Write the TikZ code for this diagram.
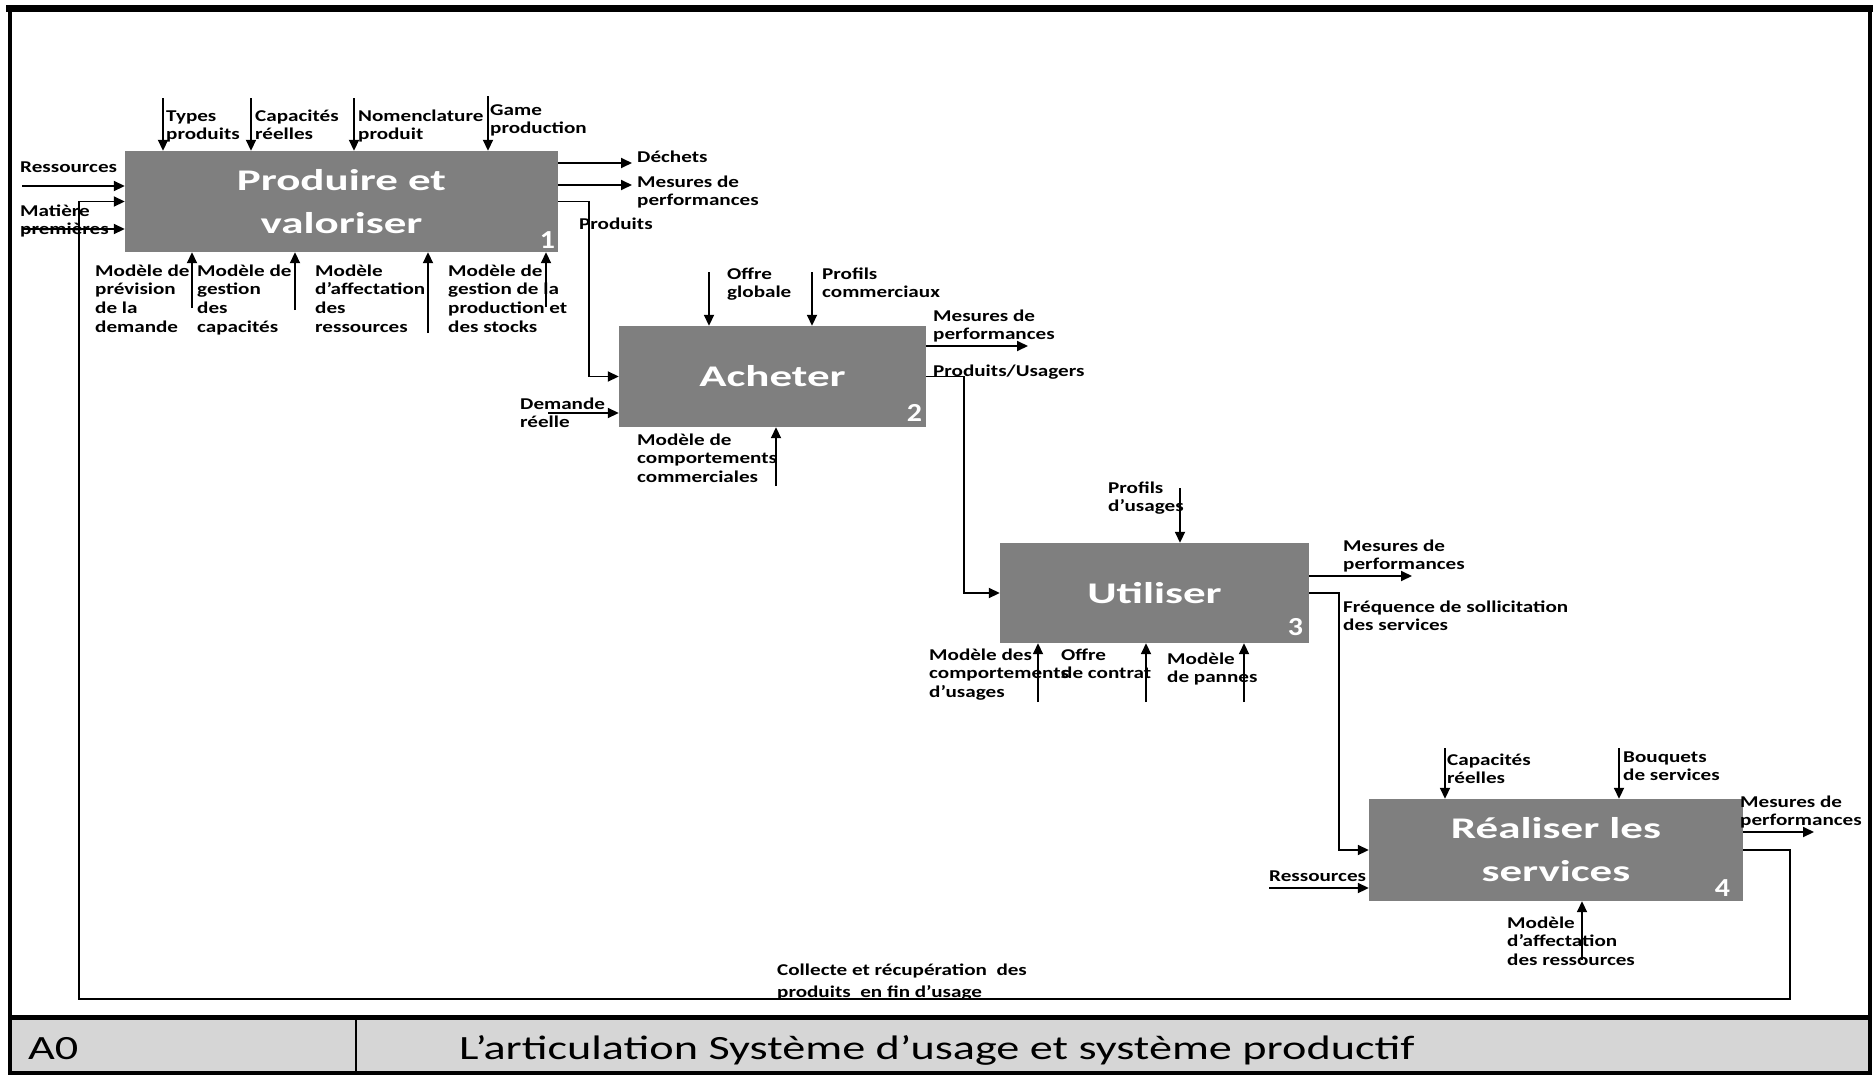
\documentclass[tikz,border=0pt]{standalone}
\usepackage{fontspec}
\setmainfont{Carlito}
\newfontfamily\lblfont{Carlito}[FakeStretch=1.28]
\newfontfamily\boxfont{Carlito}[FakeStretch=1.5]
\newfontfamily\numfont{Carlito}[FakeStretch=1.15]
\newfontfamily\titlefont{Carlito}[FakeStretch=1.36]
\usetikzlibrary{arrows.meta}
\definecolor{boxgray}{HTML}{7F7F7F}
\definecolor{bargray}{HTML}{D6D6D6}
\begin{document}
\begin{tikzpicture}[x=1pt,y=-1pt,
  lbl/.style={font=\lblfont\bfseries\fontsize{16.5}{18.8}\selectfont, align=left, anchor=base west, inner sep=0pt},
  proc/.style={fill=boxgray, draw=none, inner sep=0pt, align=center, text=white,
     font=\boxfont\bfseries\fontsize{30}{43}\selectfont},
  num/.style={font=\numfont\bfseries\fontsize{26}{26}\selectfont, text=white, inner sep=0pt, anchor=base east},
  arr/.style={draw, line width=1.8pt, -{Triangle[length=11pt,width=10pt]}}
]
\useasboundingbox (0,0) rectangle (1874,1076);

% frame and title bar
\fill[bargray] (11.5,1019.5) rectangle (1868,1071.5);
\draw[line width=4pt] (9.5,9) rectangle (1870,1073);
\draw[line width=7pt] (6,8) -- (1873,8);
\draw[line width=5pt] (9.5,1017.5) -- (1870,1017.5);
\draw[line width=2pt] (355.5,1017.5) -- (355.5,1073);
\node[font=\titlefont\fontsize{34}{34}\selectfont, anchor=base west, inner sep=0pt] (a0) at (28,1059) {A0};
\node[font=\titlefont\fontsize{34}{34}\selectfont, anchor=base west, inner sep=0pt] (title) at (459,1059) {L’articulation Système d’usage et système productif};

% boxes
\node[proc, minimum width=433pt, minimum height=101pt] (b1) at (341.5,201.5) {Produire et\\valoriser};
\node[proc, minimum width=307pt, minimum height=101pt] (b2) at (772.5,376.5) {Acheter};
\node[proc, minimum width=309pt, minimum height=100pt] (b3) at (1154.5,593) {Utiliser};
\node[proc, minimum width=374pt, minimum height=102pt] (b4) at (1556,850) {Réaliser les\\services};
\node[num] (n1) at ([xshift=-3pt,yshift=4pt]b1.south east) {1};
\node[num] (n2) at ([xshift=-4pt,yshift=6pt]b2.south east) {2};
\node[num] (n3) at ([xshift=-6pt,yshift=8pt]b3.south east) {3};
\node[num] (n4) at ([xshift=-13pt,yshift=5pt]b4.south east) {4};

% ---- box 1 ----
\coordinate (c11) at (163,98);
\coordinate (c12) at (251,98);
\coordinate (c13) at (354,98);
\coordinate (c14) at (488,96);
\foreach \c in {c11,c12,c13,c14} \draw[arr] (\c) -- (\c |- b1.north);
\coordinate (i11) at (22,186);
\coordinate (i12) at (22,229);
\draw[arr] (i11) -- (i11 -| b1.west);
\draw[arr] (i12) -- (i12 -| b1.west);
\coordinate (o11) at (632,163);
\coordinate (o12) at (632,185);
\draw[arr] (o11 -| b1.east) -- (o11);
\draw[arr] (o12 -| b1.east) -- (o12);
\coordinate (m11) at (192,308);
\coordinate (m12) at (295,310);
\coordinate (m13) at (428,333);
\coordinate (m14) at (546,307);
\foreach \m in {m11,m12,m13,m14} \draw[arr] (\m) -- (\m |- b1.south);

\node[lbl] (l-types) at (166,139.8) {Types\\produits};
\node[lbl] (l-cap1) at (255,139.8) {Capacités\\réelles};
\node[lbl] (l-nom) at (358,139.8) {Nomenclature\\produit};
\node[lbl] (l-game) at (490,133.8) {Game\\production};
\node[lbl] (l-res1) at (20,172) {Ressources};
\node[lbl] (l-mat) at (20,234.8) {Matière\\premières};
\node[lbl] (l-dech) at (637,162) {Déchets};
\node[lbl] (l-mes1) at (637,205.8) {Mesures de\\performances};
\node[lbl] (l-prod) at (579,229) {Produits};
\node[lbl] (l-m11) at (95,332.4) {Modèle de\\prévision\\de la\\demande};
\node[lbl] (l-m12) at (197,332.4) {Modèle de\\gestion\\des\\capacités};
\node[lbl] (l-m13) at (315,332.4) {Modèle\\d’affectation\\des\\ressources};
\node[lbl] (l-m14) at (448,332.4) {Modèle de\\gestion de la\\production et\\des stocks};

% ---- box 2 ----
\draw[arr] (b1.east) -- ++(31,0) |- (b2.west);
\coordinate (c21) at (709,272);
\coordinate (c22) at (812,272);
\foreach \c in {c21,c22} \draw[arr] (\c) -- (\c |- b2.north);
\coordinate (i21) at (548,413);
\draw[arr] (i21) -- (i21 -| b2.west);
\coordinate (o21) at (1028,346);
\draw[arr] (o21 -| b2.east) -- (o21);
\coordinate (m21) at (776,486);
\draw[arr] (m21) -- (m21 |- b2.south);

\node[lbl] (l-offre) at (727,297.8) {Offre\\globale};
\node[lbl] (l-prof) at (822,297.8) {Profils\\commerciaux};
\node[lbl] (l-dem) at (520,427.8) {Demande\\réelle};
\node[lbl] (l-mes2) at (933,339.8) {Mesures de\\performances};
\node[lbl] (l-pu) at (933,376) {Produits/Usagers};
\node[lbl] (l-m21) at (637,482.6) {Modèle de\\comportements\\commerciales};

% ---- box 3 ----
\draw[arr] (b2.east) -- ++(38,0) |- (b3.west);
\coordinate (c31) at (1180,488);
\draw[arr] (c31) -- (c31 |- b3.north);
\coordinate (o31) at (1412,576);
\draw[arr] (o31 -| b3.east) -- (o31);
\coordinate (m31) at (1038,702);
\coordinate (m32) at (1146,702);
\coordinate (m33) at (1244,702);
\foreach \m in {m31,m32,m33} \draw[arr] (\m) -- (\m |- b3.south);

\node[lbl] (l-pus) at (1108,511.8) {Profils\\d’usages};
\node[lbl] (l-mes3) at (1343,569.8) {Mesures de\\performances};
\node[lbl] (l-freq) at (1343,630.8) {Fréquence de sollicitation\\des services};
\node[lbl] (l-m31) at (929,697.6) {Modèle des\\comportements\\d’usages};
\node[lbl] (l-m32) at (1061,678.8) {Offre\\de contrat};
\node[lbl] (l-m33) at (1167,682.8) {Modèle\\de pannes};

% ---- box 4 ----
\draw[arr] (b3.east) -- ++(30,0) |- (b4.west);
\coordinate (c41) at (1445,748);
\coordinate (c42) at (1619,748);
\foreach \c in {c41,c42} \draw[arr] (\c) -- (\c |- b4.north);
\coordinate (i41) at (1269,888);
\draw[arr] (i41) -- (i41 -| b4.west);
\coordinate (o41) at (1814,832);
\draw[arr] (o41 -| b4.east) -- (o41);
\coordinate (m41) at (1582,960);
\draw[arr] (m41) -- (m41 |- b4.south);

\node[lbl] (l-cap4) at (1447,783.8) {Capacités\\réelles};
\node[lbl] (l-bouq) at (1623,780.8) {Bouquets\\de services};
\node[lbl] (l-res4) at (1269,881) {Ressources};
\node[lbl] (l-m41) at (1507,965.6) {Modèle\\d’affectation\\des ressources};
\node[lbl] (l-mes4) at (1740,825.8) {Mesures de\\performances};

% ---- feedback loop ----
\coordinate (fbR) at (1790,999);
\coordinate (fbL) at (79,999);
\draw[arr] (b4.east) -| (fbR) -- (fbL) |- (b1.west);
\node[lbl] (l-coll) at (777,997.8) {Collecte et récupération\ \ des\\[4pt]produits\ \ en fin d’usage};
\end{tikzpicture}
\end{document}
